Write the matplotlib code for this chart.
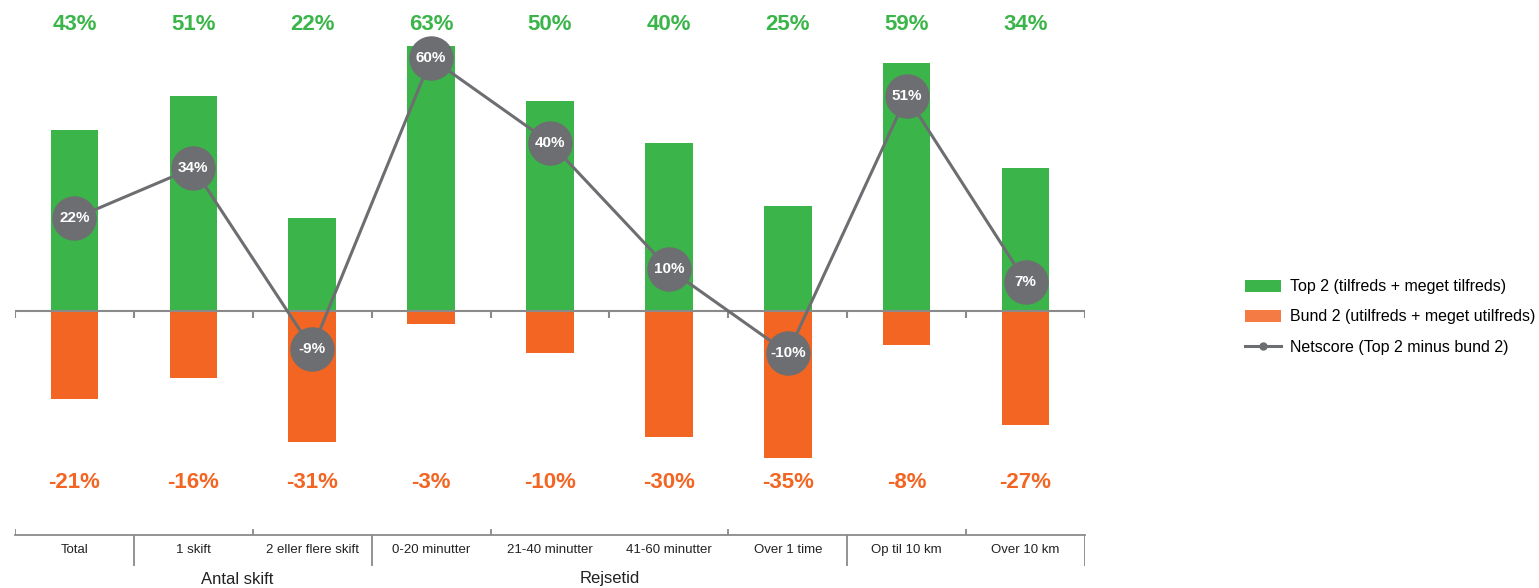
"""Top 2 / Bund 2 satisfaction with netscore line."""

import matplotlib.pyplot as plt
import numpy as np
from matplotlib.lines import Line2D
from matplotlib.patches import Patch

plt.rcParams["font.family"] = ["Liberation Sans", "DejaVu Sans"]

categories = ["Total", "1 skift", "2 eller flere skift", "0-20 minutter", "21-40 minutter",
              "41-60 minutter", "Over 1 time", "Op til 10 km", "Over 10 km"]
top2 = [43, 51, 22, 63, 50, 40, 25, 59, 34]
bund2 = [-21, -16, -31, -3, -10, -30, -35, -8, -27]
netscore = [22, 34, -9, 60, 40, 10, -10, 51, 7]
group_names = ["Antal skift", "Rejsetid"]
group_pos = [1.37, 4.5]
separators = [0.5, 2.5, 6.5, 8.5]

GREEN = "#3bb54a"
ORANGE = "#f26522"
ORANGE_LEG = "#f47c44"
GRAY = "#6d6e71"
AXIS = "#8a8a8a"

W, H = 1539, 588
fig = plt.figure(figsize=(W / 100, H / 100), dpi=100)
ax = fig.add_axes([15 / W, 0, 1070 / W, 1])

x = np.arange(len(categories))
px_per_pct = 4.21
zero_from_top = 311
ax.set_xlim(-0.5, len(categories) - 0.5)
ax.set_ylim(-(H - zero_from_top) / px_per_pct, zero_from_top / px_per_pct)
ax.axis("off")

ax.bar(x, top2, width=0.4, color=GREEN, zorder=2)
ax.bar(x, bund2, width=0.4, color=ORANGE, zorder=2)

# zero line with ticks at category boundaries
ax.axhline(0, color=AXIS, lw=1.5, zorder=3)
bounds = np.arange(-0.5, len(categories))
ax.vlines(bounds, -7 / px_per_pct, 0, color=AXIS, lw=1.5, zorder=3)

ax.plot(x, netscore, color=GRAY, lw=2.2, marker="o", markersize=31,
        markerfacecolor=GRAY, markeredgecolor=GRAY, zorder=4)
for xi, v in zip(x, netscore):
    ax.text(xi, v, f"{v}%", color="white", fontsize=11, fontweight="bold",
            ha="center", va="center", zorder=5)

tr = ax.get_xaxis_transform()
for xi, t, b in zip(x, top2, bund2):
    ax.text(xi, 1 - 24 / H, f"{t}%", color=GREEN, fontsize=16, fontweight="bold",
            ha="center", va="center", transform=tr)
    ax.text(xi, 1 - 482 / H, f"{b}%", color=ORANGE, fontsize=16, fontweight="bold",
            ha="center", va="center", transform=tr)

# category label row
row_top = 1 - 534.5 / H
row_bot = 1 - 566 / H
ax.plot([-0.5, len(categories) - 0.5], [row_top, row_top], color=AXIS, lw=1.3,
        transform=tr, clip_on=False)
ax.vlines(bounds[::2], row_top, row_top + 6 / H, color=AXIS, lw=1.3, transform=tr)
ax.vlines(separators, row_bot, row_top, color=AXIS, lw=1.3, transform=tr)
for xi, c in zip(x, categories):
    ax.text(xi, 1 - 550 / H, c, fontsize=9.5, color="#222222", ha="center", va="center",
            transform=tr)
for name, gx in zip(group_names, group_pos):
    ax.text(gx, 1 - 579 / H, name, fontsize=12, color="#222222",
            ha="center", va="center", transform=tr)

handles = [
    Patch(facecolor=GREEN, edgecolor="none"),
    Patch(facecolor=ORANGE_LEG, edgecolor="none"),
    Line2D([0], [0], color=GRAY, lw=2.2, marker="o", markersize=5),
]
labels = ["Top 2 (tilfreds + meget tilfreds)", "Bund 2 (utilfreds + meget utilfreds)",
          "Netscore (Top 2 minus bund 2)"]
fig.legend(handles, labels, loc="center left", bbox_to_anchor=(1245 / W, 1 - 317 / H),
           frameon=False, fontsize=11.5, handlelength=2.25, handleheight=0.8,
           handletextpad=0.55, labelspacing=0.95, borderpad=0, borderaxespad=0)

fig.savefig("out.png", dpi=100)
